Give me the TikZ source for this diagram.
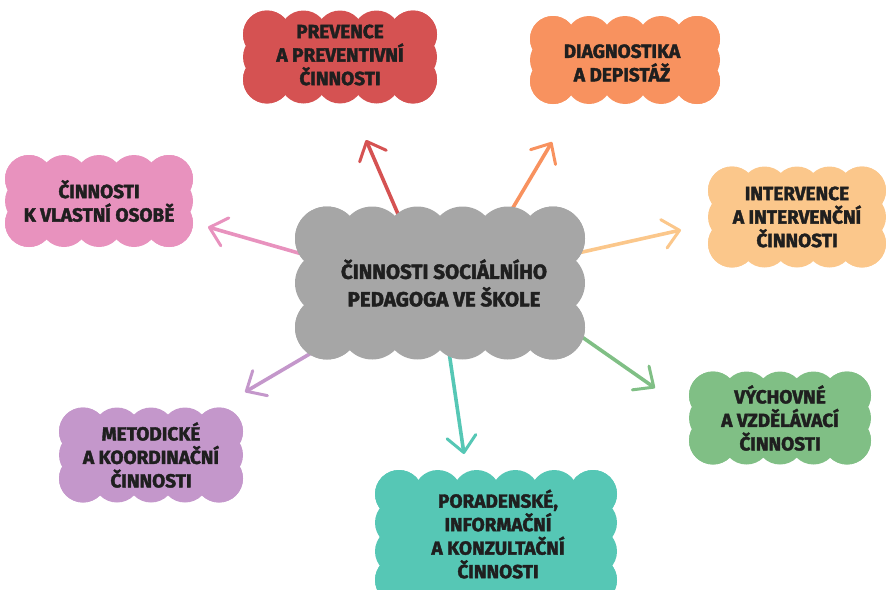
\documentclass[tikz,border=0pt]{standalone}
\usepackage{fontspec}
\newfontfamily\cloudfont{Fira Sans}[BoldFeatures={FakeBold=2}]
\usetikzlibrary{arrows.meta}

\definecolor{hubgray}{HTML}{A6A6A6}
\definecolor{cred}{HTML}{D55252}
\definecolor{corange}{HTML}{F8925F}
\definecolor{capricot}{HTML}{FBC78B}
\definecolor{cpink}{HTML}{E892BE}
\definecolor{cgreen}{HTML}{80BF85}
\definecolor{cteal}{HTML}{56C7B5}
\definecolor{cpurple}{HTML}{C497CB}

% scalloped cloud: centre x, centre y, width, height, bumps across, bumps down, bump radius, colour
\newcommand{\puff}[8]{%
  \begin{scope}[shift={(#1,#2)}]
    \pgfmathsetmacro\pw{#3/2-#7}
    \pgfmathsetmacro\ph{#4/2-#7}
    \fill[#8] (-\pw,-\ph) rectangle (\pw,\ph);
    \foreach \i in {0,...,#5}{
      \fill[#8] ({-\pw+2*\pw*\i/#5},-\ph) circle[radius=#7];
      \fill[#8] ({-\pw+2*\pw*\i/#5},\ph) circle[radius=#7];
    }
    \foreach \j in {0,...,#6}{
      \fill[#8] (-\pw,{-\ph+2*\ph*\j/#6}) circle[radius=#7];
      \fill[#8] (\pw,{-\ph+2*\ph*\j/#6}) circle[radius=#7];
    }
  \end{scope}}

\tikzset{
  link/.style={line width=3.6pt, line cap=round,
    -{Straight Barb[length=16pt,width=29pt,line width=3pt,round]}},
  label/.style={font=\cloudfont\bfseries\fontsize{19}{23.5}\selectfont,
    align=center, text=black!88, inner sep=0pt},
  hublabel/.style={font=\cloudfont\bfseries\fontsize{20.5}{27.5}\selectfont,
    align=center, text=black!88, inner sep=0pt}
}

\begin{document}
\begin{tikzpicture}[x=1pt,y=-1pt]
  \useasboundingbox (0,0) rectangle (886,589);
  \clip (0,0) rectangle (886,589);

  % arrow ends
  \coordinate (t1) at (398,214); \coordinate (h1) at (366,140);
  \coordinate (t2) at (508,216); \coordinate (h2) at (552,142);
  \coordinate (t3) at (578,253); \coordinate (h3) at (681,230);
  \coordinate (t4) at (302,254); \coordinate (h4) at (208,227);
  \coordinate (t5) at (330,342); \coordinate (h5) at (245,392);
  \coordinate (t6) at (449,352); \coordinate (h6) at (464,454);
  \coordinate (t7) at (562,323); \coordinate (h7) at (655,388);

  \draw[link, cred] (t1) -- (h1);
  \draw[link, corange] (t2) -- (h2);
  \draw[link, capricot] (t3) -- (h3);
  \draw[link, cpink] (t4) -- (h4);
  \draw[link, cpurple] (t5) -- (h5);
  \draw[link, cteal] (t6) -- (h6);
  \draw[link, cgreen] (t7) -- (h7);

  % clouds
  \puff{440}{283}{290}{153}{5}{2}{32}{hubgray}
  \puff{340}{57}{194}{93}{4}{2}{24}{cred}
  \puff{625}{60}{190}{88}{4}{2}{23}{corange}
  \puff{797}{217}{178}{101}{4}{2}{24}{capricot}
  \puff{99}{201}{188}{92}{4}{2}{24}{cpink}
  \puff{780}{418}{182}{93}{4}{2}{24}{cgreen}
  \puff{151}{455}{184}{95}{4}{2}{24}{cpurple}
  \puff{496}{537}{242}{134}{5}{3}{24}{cteal}

  % labels
  \node[hublabel] (hub) at (444,283) {ČINNOSTI SOCIÁLNÍHO\\PEDAGOGA VE ŠKOLE};
  \node[label] (prev) at (340,55) {PREVENCE\\A PREVENTIVNÍ\\ČINNOSTI};
  \node[label] (diag) at (622,63) {DIAGNOSTIKA\\A DEPISTÁŽ};
  \node[label] (interv) at (797,217) {INTERVENCE\\A INTERVENČNÍ\\ČINNOSTI};
  \node[label] (self) at (99,201) {ČINNOSTI\\K VLASTNÍ OSOBĚ};
  \node[label] (edu) at (780,418) {VÝCHOVNÉ\\A VZDĚLÁVACÍ\\ČINNOSTI};
  \node[label] (method) at (151,455) {METODICKÉ\\A KOORDINAČNÍ\\ČINNOSTI};
  \node[label] (advice) at (498,534) {PORADENSKÉ,\\INFORMAČNÍ\\A KONZULTAČNÍ\\ČINNOSTI};
\end{tikzpicture}
\end{document}
